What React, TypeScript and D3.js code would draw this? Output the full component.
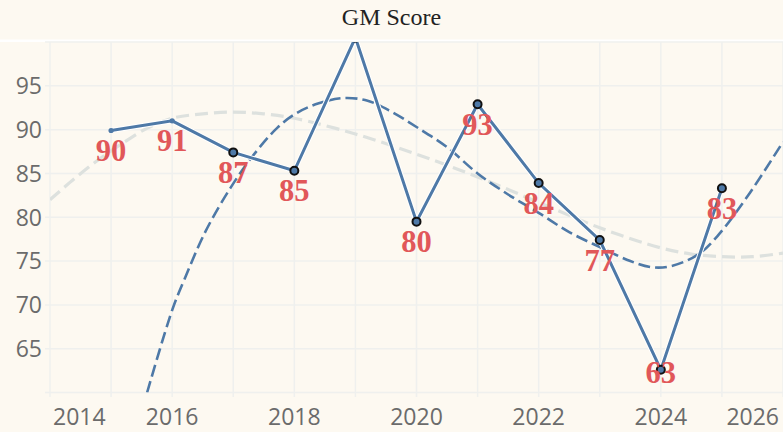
import { useEffect, useRef } from "react"
import * as d3 from "d3"

// GM score per season
const years = [2015, 2016, 2017, 2018, 2019, 2020, 2021, 2022, 2023, 2024, 2025]
const scores = [89.9, 91.0, 87.4, 85.3, 100.5, 79.5, 92.9, 83.9, 77.4, 62.6, 83.3]
const firstOutlinedYear = 2017

// dashed blue trend
const trendYears = [2015.59, 2016.0, 2016.2, 2016.54, 2016.95, 2017.32, 2017.72, 2018.04, 2018.4, 2018.8, 2019.2, 2019.6, 2020.0, 2020.5, 2021.0, 2021.5, 2022.0, 2022.5, 2023.0, 2023.5, 2023.85, 2024.15, 2024.6, 2024.92, 2025.41, 2026.0]
const trendValues = [60.0, 69.4, 72.9, 78.3, 83.3, 87.0, 90.2, 91.9, 93.0, 93.6, 93.3, 92.0, 90.3, 88.0, 85.0, 82.6, 80.5, 78.3, 76.6, 75.0, 74.3, 74.4, 75.7, 77.8, 82.3, 88.6]

// light grey smooth trend
const smoothYears = [2014.0, 2014.4, 2014.8, 2015.2, 2015.6, 2016.0, 2016.5, 2017.0, 2017.5, 2018.0, 2019.0, 2020.0, 2021.0, 2022.0, 2023.0, 2024.0, 2024.5, 2025.0, 2025.5, 2026.0]
const smoothValues = [82.0, 84.4, 86.6, 88.5, 90.2, 91.3, 91.8, 92.0, 91.8, 91.3, 89.5, 87.2, 84.6, 81.7, 78.8, 76.5, 75.8, 75.5, 75.5, 75.9]

const xTicks = [2014, 2016, 2018, 2020, 2022, 2024, 2026]
const yTicks = [65, 70, 75, 80, 85, 90, 95]

const W = 783
const H = 432

export default function App() {
  const svgRef = useRef<SVGSVGElement>(null)

  useEffect(() => {
    if (!svgRef.current) return
    const svg = d3.select(svgRef.current)
    svg.selectAll("*").remove()

    const margin = { top: 42, right: 0, bottom: 39.5, left: 50 }
    const x = d3.scaleLinear().domain([2014, 2026]).range([margin.left, W - margin.right])
    const y = d3.scaleLinear().domain([60, 100]).range([H - margin.bottom, margin.top])
    const [x0, x1] = x.range()
    const [yb, yt] = y.range()

    svg.append("rect").attr("width", W).attr("height", H).attr("fill", "#fdf9f1")
    svg.append("rect").attr("x", 0).attr("y", 39.5).attr("width", W).attr("height", 2.5).attr("fill", "#ffffff")

    svg.append("text")
      .attr("x", W / 2).attr("y", 25)
      .attr("text-anchor", "middle")
      .attr("font-family", "'Liberation Serif', 'Times New Roman', serif")
      .attr("font-size", 24)
      .attr("fill", "#222")
      .text("GM Score")

    // grid
    const grid = svg.append("g").attr("stroke", "#eff0ee").attr("stroke-width", 1.5)
    d3.range(2014, 2027).forEach(yr => {
      grid.append("line").attr("x1", x(yr)).attr("x2", x(yr)).attr("y1", yt).attr("y2", yb + 4.5)
    })
    d3.range(60, 101, 5).forEach(v => {
      grid.append("line").attr("x1", x0 - 5).attr("x2", x1).attr("y1", y(v)).attr("y2", y(v))
    })

    // axis labels
    const tickFont = "'Open Sans', 'Noto Sans', sans-serif"
    svg.append("g").selectAll("text").data(yTicks).join("text")
      .attr("x", 42).attr("y", d => y(d))
      .attr("dy", "0.36em")
      .attr("text-anchor", "end")
      .attr("font-family", tickFont)
      .attr("font-size", 23).attr("fill", "#6b6b6b")
      .text(d => d)
    svg.append("g").selectAll("text").data(xTicks).join("text")
      .attr("x", (d, i) => i === 0 ? x(d) + 3 : i === xTicks.length - 1 ? x(d) - 4 : x(d))
      .attr("y", 425)
      .attr("text-anchor", (d, i) => i === 0 ? "start" : i === xTicks.length - 1 ? "end" : "middle")
      .attr("font-family", tickFont)
      .attr("font-size", 23).attr("fill", "#6b6b6b")
      .text(d => d)

    svg.append("clipPath").attr("id", "plot-clip")
      .append("rect").attr("x", x0).attr("y", yt).attr("width", x1 - x0).attr("height", yb - yt)

    const plot = svg.append("g").attr("clip-path", "url(#plot-clip)")

    // grey smooth trend
    const smoothLine = d3.line<number>()
      .x((_, i) => x(smoothYears[i]))
      .y(d => y(d))
      .curve(d3.curveCatmullRom.alpha(0.5))
    plot.append("path")
      .datum(smoothValues)
      .attr("d", smoothLine)
      .attr("fill", "none")
      .attr("stroke", "#dde1de")
      .attr("stroke-width", 3.2)
      .attr("stroke-dasharray", "13 6")

    // blue dashed trend
    const trendLine = d3.line<number>()
      .x((_, i) => x(trendYears[i]))
      .y(d => y(d))
      .curve(d3.curveCatmullRom.alpha(0.5))
    plot.append("path")
      .datum(trendValues)
      .attr("d", trendLine)
      .attr("fill", "none")
      .attr("stroke", "#4e79a7")
      .attr("stroke-width", 2.6)
      .attr("stroke-dasharray", "12 5")

    // main line with white halo
    const scoreLine = d3.line<number>()
      .x((_, i) => x(years[i]))
      .y(d => y(d))
    plot.append("path")
      .datum(scores)
      .attr("d", scoreLine)
      .attr("fill", "none")
      .attr("stroke", "#ffffff")
      .attr("stroke-width", 5)
    plot.append("path")
      .datum(scores)
      .attr("d", scoreLine)
      .attr("fill", "none")
      .attr("stroke", "#4e79a7")
      .attr("stroke-width", 3)

    // markers
    plot.selectAll("circle").data(scores).join("circle")
      .attr("cx", (_, i) => x(years[i]))
      .attr("cy", d => y(d))
      .attr("r", (_, i) => years[i] >= firstOutlinedYear ? 4 : 2.6)
      .attr("fill", "#4e79a7")
      .attr("stroke", (_, i) => years[i] >= firstOutlinedYear ? "#111" : "none")
      .attr("stroke-width", 2)

    // value labels
    const labelled = scores.map((v, i) => ({ v, yr: years[i] })).filter(d => d.v <= 100 && d.v >= 60)
    svg.append("g").selectAll("text").data(labelled).join("text")
      .attr("x", d => x(d.yr))
      .attr("y", d => Math.min(y(d.v) + 30.5, yb - 9.5))
      .attr("text-anchor", "middle")
      .attr("font-family", "'Liberation Serif', 'Times New Roman', serif")
      .attr("font-weight", "bold")
      .attr("font-size", 30.5)
      .attr("fill", "#e15759")
      .text(d => Math.round(d.v))
  }, [])

  return (
    <div style={{ position: "absolute", left: 0, top: 0 }}>
      <svg ref={svgRef} width={W} height={H} style={{ display: "block" }} />
    </div>
  )
}
